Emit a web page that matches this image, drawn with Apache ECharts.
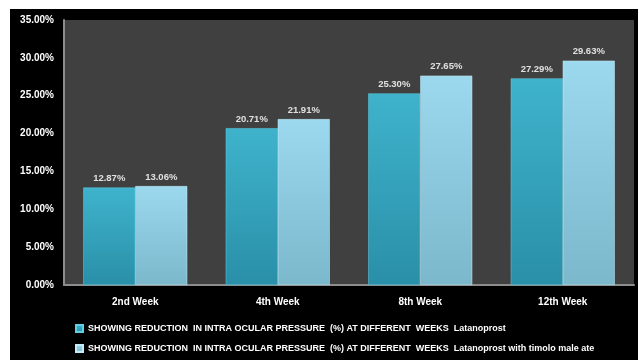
<!DOCTYPE html>
<html><head><meta charset="utf-8">
<script src="https://cdn.jsdelivr.net/npm/echarts@6/dist/echarts.min.js"></script>
<style>html,body{margin:0;padding:0;background:#fff;}#c{position:absolute;left:10px;top:9px;width:628px;height:351px;background:#000;}</style>
</head><body><div id="c"></div>
<script>
const categories = ['2nd Week','4th Week','8th Week','12th Week'];
const seriesNames = [
 'SHOWING REDUCTION  IN INTRA OCULAR PRESSURE  (%) AT DIFFERENT  WEEKS  Latanoprost',
 'SHOWING REDUCTION  IN INTRA OCULAR PRESSURE  (%) AT DIFFERENT  WEEKS  Latanoprost with timolo male ate'
];
const latanoprost = [12.87, 20.71, 25.30, 27.29];
const withTimolol = [13.06, 21.91, 27.65, 29.63];
const yTicks = [0,5,10,15,20,25,30,35];

const chart = echarts.init(document.getElementById('c'), null, {renderer:'canvas'});
const font = 'Liberation Sans';
const lbl = {show:true, position:'top', formatter: p => p.value.toFixed(2)+'%', color:'#e0e0e0', fontSize:9.5, fontWeight:'bold', fontFamily:font, distance:4};
chart.setOption({
  backgroundColor:'#000',
  animation:false,
  grid:{left:54, right:4, top:11, bottom:75, containLabel:false, show:true, backgroundColor:'#404040', borderWidth:0},
  legend:{
    orient:'vertical', left:60, top:310, itemWidth:7, itemHeight:7, itemGap:11,
    textStyle:{color:'#fff', fontSize:9, fontWeight:'bold', fontFamily:font},
    data:seriesNames, icon:'rect'
  },
  xAxis:{type:'category', data:categories,
    axisLine:{lineStyle:{color:'#8c8c8c', width:2}}, axisTick:{show:false},
    axisLabel:{color:'#fff', fontSize:10, fontWeight:'bold', fontFamily:font, margin:12}},
  yAxis:{type:'value', min:0, max:35, interval:5,
    axisLine:{show:true, lineStyle:{color:'#8c8c8c', width:2}}, axisTick:{show:false},
    splitLine:{show:false},
    axisLabel:{color:'#fff', fontSize:10, fontWeight:'bold', fontFamily:font, margin:10, formatter: v => v.toFixed(2)+'%'}},
  series:[
    {name:seriesNames[0], type:'bar', data:latanoprost, barGap:'0%', barCategoryGap:'27%',
     itemStyle:{color:new echarts.graphic.LinearGradient(0,0,0,1,[{offset:0,color:'#3fb3cc'},{offset:1,color:'#2a8fa8'}]), borderColor:'#5fd0e6', borderWidth:0.5},
     label:lbl},
    {name:seriesNames[1], type:'bar', data:withTimolol,
     itemStyle:{color:new echarts.graphic.LinearGradient(0,0,0,1,[{offset:0,color:'#9cd8ee'},{offset:1,color:'#7cb8cc'}]), borderColor:'#c4ecf8', borderWidth:0.5},
     label:lbl}
  ]
});
</script></body></html>
